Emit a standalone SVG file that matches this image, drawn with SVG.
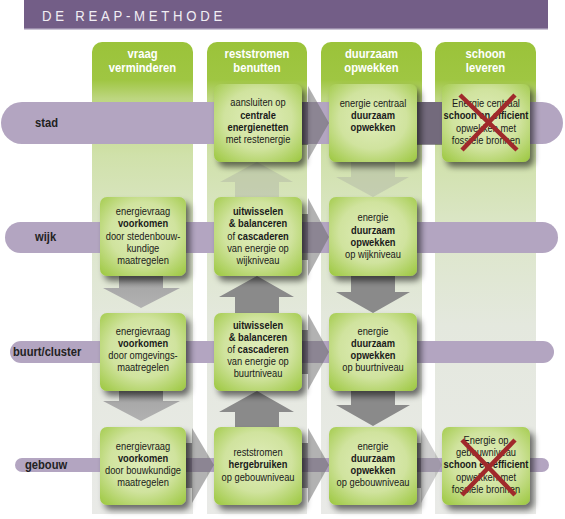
<svg xmlns="http://www.w3.org/2000/svg" width="565" height="519" viewBox="0 0 565 519">
<defs>
  <linearGradient id="colg" gradientUnits="userSpaceOnUse" x1="0" y1="42" x2="0" y2="514">
    <stop offset="0" stop-color="#9bc33a"/>
    <stop offset="0.08" stop-color="#9fc642"/>
    <stop offset="0.12" stop-color="#bdd680"/>
    <stop offset="0.24" stop-color="#d0e1aa"/>
    <stop offset="0.40" stop-color="#dce6c9"/>
    <stop offset="0.60" stop-color="#e4e8de"/>
    <stop offset="1" stop-color="#e9eae7"/>
  </linearGradient>
  <radialGradient id="boxg" cx="0.5" cy="0.45" r="0.7">
    <stop offset="0" stop-color="#e0edbb"/>
    <stop offset="0.55" stop-color="#d0e39e"/>
    <stop offset="1" stop-color="#a1ca48"/>
  </radialGradient>
  <linearGradient id="vd" x1="0" y1="0" x2="0" y2="1">
    <stop offset="0" stop-color="#8c8c8c"/>
    <stop offset="0.4" stop-color="#a9a9a9"/>
    <stop offset="1" stop-color="#b2b2b2"/>
  </linearGradient>
  <filter id="sh" x="-20%" y="-20%" width="150%" height="150%">
    <feGaussianBlur in="SourceAlpha" stdDeviation="3"/>
    <feOffset dx="4" dy="5" result="b"/>
    <feComponentTransfer><feFuncA type="linear" slope="0.55"/></feComponentTransfer>
    <feMerge><feMergeNode/><feMergeNode in="SourceGraphic"/></feMerge>
  </filter>
</defs>
<style>
  .col{fill:url(#colg)}
  .hd{font-family:'Liberation Sans',Arial,sans-serif;font-size:12.5px;font-weight:bold;fill:#ffffff;text-anchor:middle}
  .bar{fill:#b3a5c1}
  .rl{font-family:'Liberation Sans',Arial,sans-serif;font-size:13px;font-weight:bold;fill:#222222}
  .box{fill:url(#boxg);filter:url(#sh)}
  .t{font-family:'Liberation Sans',Arial,sans-serif;font-size:11.5px;fill:#1a1a1a;text-anchor:middle}
  .b{font-weight:bold}
  .x{stroke:#a0292b;stroke-width:4.5;stroke-linecap:butt;fill:none}
  .sd{fill:#3e3a44;opacity:0.55}
  .hh{fill:#666666;opacity:0.5}
  .hl{fill:#888888;opacity:0.4}
  .vg{fill:url(#vd)}
  .vk{fill:#8a8a8a}
  .vf{fill:#9a9a9a;opacity:0.3}
</style>

<g id="title">
  <rect x="24" y="0" width="524" height="29" fill="#735e87"/>
  <rect x="24" y="28" width="524" height="1.5" fill="#9a8cab"/>
  <text transform="translate(42,21) scale(0.85,1)" font-family="'Liberation Sans',Arial,sans-serif" font-size="15.5" letter-spacing="4.4" fill="#f1eef4">DE REAP-METHODE</text>
</g>

<g id="columns">
  <g id="col-vraag">
    <path class="col" d="M92,514 V52 A10,10 0 0 1 102,42 H183 A10,10 0 0 1 193,52 V514 Z"/>
    <g transform="translate(142.5,0) scale(0.9,1)"><text class="hd" x="0" y="58">vraag</text><text class="hd" x="0" y="72">verminderen</text></g>
  </g>
  <g id="col-reststromen">
    <path class="col" d="M207,514 V52 A10,10 0 0 1 217,42 H297 A10,10 0 0 1 307,52 V514 Z"/>
    <g transform="translate(257,0) scale(0.9,1)"><text class="hd" x="0" y="58">reststromen</text><text class="hd" x="0" y="72">benutten</text></g>
  </g>
  <g id="col-duurzaam">
    <path class="col" d="M321,514 V52 A10,10 0 0 1 331,42 H412 A10,10 0 0 1 422,52 V514 Z"/>
    <g transform="translate(371.5,0) scale(0.9,1)"><text class="hd" x="0" y="58">duurzaam</text><text class="hd" x="0" y="72">opwekken</text></g>
  </g>
  <g id="col-schoon">
    <path class="col" d="M435,514 V52 A10,10 0 0 1 445,42 H526 A10,10 0 0 1 536,52 V514 Z"/>
    <g transform="translate(485.5,0) scale(0.9,1)"><text class="hd" x="0" y="58">schoon</text><text class="hd" x="0" y="72">leveren</text></g>
  </g>
</g>

<g id="rows">
  <g id="row-stad">
    <rect class="bar" x="1" y="102" width="562" height="42" rx="21"/>
    <text class="rl" transform="translate(35,127) scale(0.86,1)">stad</text>
  </g>
  <g id="row-wijk">
    <rect class="bar" x="5" y="222" width="553" height="31" rx="15.5"/>
    <text class="rl" transform="translate(35,241) scale(0.86,1)">wijk</text>
  </g>
  <g id="row-buurt">
    <rect class="bar" x="10" y="341" width="544" height="22" rx="11"/>
    <text class="rl" transform="translate(13,356) scale(0.86,1)">buurt/cluster</text>
  </g>
  <g id="row-gebouw">
    <rect class="bar" x="15" y="458" width="534" height="14" rx="7"/>
    <text class="rl" transform="translate(25,469) scale(0.86,1)">gebouw</text>
  </g>
</g>

<g id="connectors">
  <polygon class="vg" points="119,276 163,276 163,288 180,288 141,308 103,288 119,288"/>
  <polygon class="vg" points="119,391 163,391 163,401 180,401 141,421 103,401 119,401"/>
  <polygon class="vf" points="235,197 279,197 279,182 293,182 257,162 220,182 235,182"/>
  <polygon class="vk" points="235,313 279,313 279,297 294,297 257,276 219,297 235,297"/>
  <polygon class="vk" points="235,427 279,427 279,412 294,412 257,391 219,412 235,412"/>
  <polygon class="vf" points="351,162 395,162 395,177 409,177 373,197 336,177 351,177"/>
  <polygon class="vk" points="351,276 395,276 395,292 410,292 373,313 336,292 351,292"/>
  <polygon class="vk" points="351,391 395,391 395,405 410,405 373,426 336,405 351,405"/>
  <rect class="sd" x="300" y="102" width="8" height="43"/>
  <polygon class="hh" points="308,86 329,123 308,160"/>
  <rect class="sd" x="415" y="102" width="27" height="43" opacity="0.3"/>
  <rect class="sd" x="300" y="214" width="8" height="46"/>
  <polygon class="hh" points="308,198 329,237 308,276"/>
  <rect class="sd" x="300" y="330" width="8" height="44"/>
  <polygon class="hh" points="308,314 329,352 308,390"/>
  <rect class="sd" x="186" y="443" width="6" height="45"/>
  <polygon class="hh" points="192,428 214,465 192,503"/>
  <rect class="sd" x="300" y="443" width="8" height="45"/>
  <polygon class="hh" points="308,428 329,465 308,503"/>
  <rect class="sd" x="415" y="443" width="6" height="45"/>
  <polygon class="hl" points="421,428 442,465 421,503"/>
</g>

<g id="nodes">
  <g id="stad-rest">
    <rect class="box" x="214" y="84" width="88" height="78" rx="7"/>
    <g transform="translate(258,0) scale(0.81,1)">
      <text class="t" x="0" y="106">aansluiten op</text>
      <text class="t b" x="0" y="119">centrale</text>
      <text class="t b" x="0" y="131">energienetten</text>
      <text class="t" x="0" y="143">met restenergie</text>
    </g>
  </g>
  <g id="stad-duurzaam">
    <rect class="box" x="329" y="84" width="88" height="78" rx="7"/>
    <g transform="translate(373,0) scale(0.81,1)">
      <text class="t" x="0" y="107">energie centraal</text>
      <text class="t b" x="0" y="119">duurzaam</text>
      <text class="t b" x="0" y="131">opwekken</text>
    </g>
  </g>
  <g id="stad-schoon">
    <rect class="box" x="442" y="84" width="88" height="78" rx="7"/>
    <g transform="translate(486,0) scale(0.81,1)">
      <text class="t" x="0" y="107">Energie centraal</text>
      <text class="t b" x="0" y="119">schoon en efficient</text>
      <text class="t" x="0" y="132">opwekken met</text>
      <text class="t" x="0" y="144">fossiele bronnen</text>
    </g>
    <path class="x" d="M460,95 L517,150 M515,95 L462,150"/>
  </g>

  <g id="wijk-vraag">
    <rect class="box" x="100" y="197" width="86" height="79" rx="7"/>
    <g transform="translate(143,0) scale(0.81,1)">
      <text class="t" x="0" y="215">energievraag</text>
      <text class="t b" x="0" y="227">voorkomen</text>
      <text class="t" x="0" y="240">door stedenbouw-</text>
      <text class="t" x="0" y="252">kundige</text>
      <text class="t" x="0" y="264">maatregelen</text>
    </g>
  </g>
  <g id="wijk-rest">
    <rect class="box" x="214" y="197" width="88" height="79" rx="7"/>
    <g transform="translate(258,0) scale(0.81,1)">
      <text class="t b" x="0" y="215">uitwisselen</text>
      <text class="t b" x="0" y="227">&amp; balanceren</text>
      <text class="t" x="0" y="240">of <tspan class="b">cascaderen</tspan></text>
      <text class="t" x="0" y="252">van energie op</text>
      <text class="t" x="0" y="264">wijkniveau</text>
    </g>
  </g>
  <g id="wijk-duurzaam">
    <rect class="box" x="329" y="197" width="88" height="79" rx="7"/>
    <g transform="translate(373,0) scale(0.81,1)">
      <text class="t" x="0" y="221">energie</text>
      <text class="t b" x="0" y="234">duurzaam</text>
      <text class="t b" x="0" y="246">opwekken</text>
      <text class="t" x="0" y="258">op wijkniveau</text>
    </g>
  </g>

  <g id="buurt-vraag">
    <rect class="box" x="100" y="313" width="86" height="78" rx="7"/>
    <g transform="translate(143,0) scale(0.81,1)">
      <text class="t" x="0" y="335">energievraag</text>
      <text class="t b" x="0" y="347">voorkomen</text>
      <text class="t" x="0" y="359">door omgevings-</text>
      <text class="t" x="0" y="371">maatregelen</text>
    </g>
  </g>
  <g id="buurt-rest">
    <rect class="box" x="214" y="313" width="88" height="78" rx="7"/>
    <g transform="translate(258,0) scale(0.81,1)">
      <text class="t b" x="0" y="329">uitwisselen</text>
      <text class="t b" x="0" y="341">&amp; balanceren</text>
      <text class="t" x="0" y="353">of <tspan class="b">cascaderen</tspan></text>
      <text class="t" x="0" y="365">van energie op</text>
      <text class="t" x="0" y="377">buurtniveau</text>
    </g>
  </g>
  <g id="buurt-duurzaam">
    <rect class="box" x="329" y="313" width="88" height="78" rx="7"/>
    <g transform="translate(373,0) scale(0.81,1)">
      <text class="t" x="0" y="335">energie</text>
      <text class="t b" x="0" y="347">duurzaam</text>
      <text class="t b" x="0" y="359">opwekken</text>
      <text class="t" x="0" y="371">op buurtniveau</text>
    </g>
  </g>

  <g id="gebouw-vraag">
    <rect class="box" x="100" y="427" width="86" height="78" rx="7"/>
    <g transform="translate(143,0) scale(0.81,1)">
      <text class="t" x="0" y="450">energievraag</text>
      <text class="t b" x="0" y="462">voorkomen</text>
      <text class="t" x="0" y="474">door bouwkundige</text>
      <text class="t" x="0" y="486">maatregelen</text>
    </g>
  </g>
  <g id="gebouw-rest">
    <rect class="box" x="214" y="427" width="88" height="78" rx="7"/>
    <g transform="translate(258,0) scale(0.81,1)">
      <text class="t" x="0" y="456">reststromen</text>
      <text class="t b" x="0" y="468">hergebruiken</text>
      <text class="t" x="0" y="481">op gebouwniveau</text>
    </g>
  </g>
  <g id="gebouw-duurzaam">
    <rect class="box" x="329" y="427" width="88" height="78" rx="7"/>
    <g transform="translate(373,0) scale(0.81,1)">
      <text class="t" x="0" y="450">energie</text>
      <text class="t b" x="0" y="462">duurzaam</text>
      <text class="t b" x="0" y="474">opwekken</text>
      <text class="t" x="0" y="486">op gebouwniveau</text>
    </g>
  </g>
  <g id="gebouw-schoon">
    <rect class="box" x="442" y="427" width="88" height="78" rx="7"/>
    <g transform="translate(486,0) scale(0.81,1)">
      <text class="t" x="0" y="444">Energie op</text>
      <text class="t" x="0" y="456">gebouwniveau</text>
      <text class="t b" x="0" y="468">schoon en efficient</text>
      <text class="t" x="0" y="481">opwekken met</text>
      <text class="t" x="0" y="493">fossiele bronnen</text>
    </g>
    <path class="x" d="M462,440 L515,495 M515,440 L462,495"/>
  </g>
</g>
</svg>
